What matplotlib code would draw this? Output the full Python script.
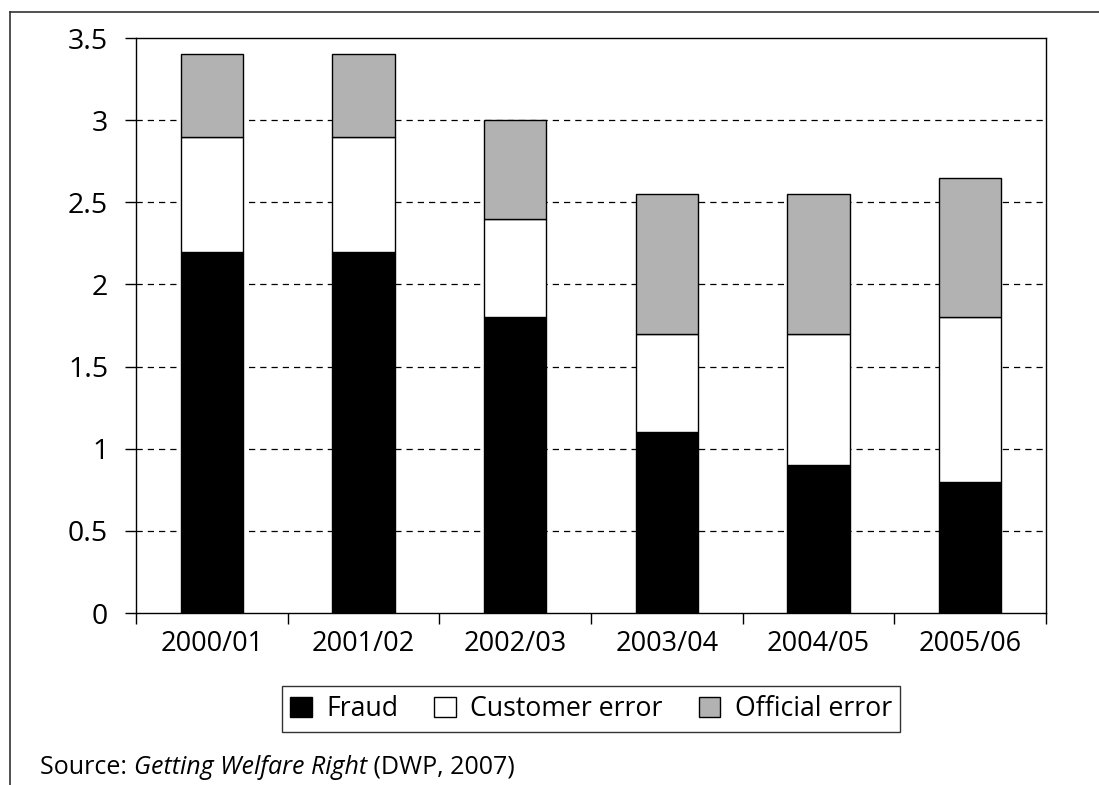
import matplotlib
matplotlib.use("Agg")
import matplotlib.pyplot as plt
from matplotlib.lines import Line2D
import numpy as np

categories = ["2000/01", "2001/02", "2002/03", "2003/04", "2004/05", "2005/06"]
fraud = [2.2, 2.2, 1.8, 1.1, 0.9, 0.8]
customer_error = [0.7, 0.7, 0.6, 0.6, 0.8, 1.0]
official_error = [0.5, 0.5, 0.6, 0.85, 0.85, 0.85]
yticks = [0, 0.5, 1, 1.5, 2, 2.5, 3, 3.5]
ytick_labels = ["0", "0.5", "1", "1.5", "2", "2.5", "3", "3.5"]

plt.rcParams['font.family'] = ['Open Sans', 'DejaVu Sans']

W, H = 1099, 785
fig = plt.figure(figsize=(W / 100, H / 100), dpi=100)
ax = fig.add_axes([136 / W, 1 - 613 / H, (1046 - 136) / W, (613 - 38) / H])

x = np.arange(len(categories))
bw = 0.41
fr = np.array(fraud)
ce = np.array(customer_error)
oe = np.array(official_error)
ax.bar(x, fr, bw, color='black', edgecolor='black', linewidth=1, label='Fraud', zorder=3)
ax.bar(x, ce, bw, bottom=fr, color='white', edgecolor='black', linewidth=1, label='Customer error', zorder=3)
ax.bar(x, oe, bw, bottom=fr + ce, color='#b2b2b2', edgecolor='black', linewidth=1, label='Official error', zorder=3)

ax.set_xlim(-0.5, len(categories) - 0.5)
ax.set_ylim(0, 3.5)
ax.set_yticks(yticks)
ax.set_yticklabels(ytick_labels, fontsize=20.5)
for yv in yticks[1:-1]:
    ax.axhline(yv, color='black', linestyle=(0, (5, 4)), linewidth=0.9, zorder=1)

ax.set_xticks(x)
ax.set_xticklabels(categories, fontsize=19.5)
ax.tick_params(axis='x', length=0, pad=12)
ax.set_xticks(np.arange(-0.5, len(categories)), minor=True)
ax.tick_params(axis='x', which='minor', length=8, width=1, direction='out')
ax.tick_params(axis='y', length=8, width=1, direction='out', pad=12)
for s in ax.spines.values():
    s.set_linewidth(1)
    s.set_color('black')

leg = fig.legend(loc='center', bbox_to_anchor=(591 / W, 1 - 709 / H), ncol=3, fontsize=19.2,
                 frameon=True, fancybox=False, edgecolor='black', handlelength=0.8,
                 handleheight=0.8, handletextpad=0.55, columnspacing=1.35, borderpad=0.32)
leg.get_frame().set_linewidth(1)

# Outer frame (top and left)
fig.add_artist(Line2D([10 / W, 1.0], [1 - 12 / H, 1 - 12 / H], color='#333333', linewidth=1.2, transform=fig.transFigure))
fig.add_artist(Line2D([10 / W, 10 / W], [1 - 12 / H, 0], color='#333333', linewidth=1.2, transform=fig.transFigure))

# Source line
t1 = fig.text(40 / W, 1 - 767 / H, "Source: ", fontsize=18, va='center', ha='left')
fig.canvas.draw()
r = fig.canvas.get_renderer()
bb = t1.get_window_extent(r)
t2 = fig.text(bb.x1 / W, 1 - 767 / H, "Getting Welfare Right", fontsize=18, va='center', ha='left', style='italic')
bb2 = t2.get_window_extent(r)
fig.text(bb2.x1 / W, 1 - 767 / H, " (DWP, 2007)", fontsize=18, va='center', ha='left')

fig.savefig("out.png", dpi=100)
